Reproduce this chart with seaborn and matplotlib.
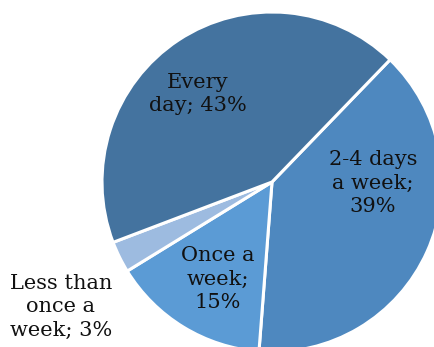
import matplotlib
matplotlib.use("Agg")
import matplotlib.pyplot as plt
import seaborn as sns

categories = ["2-4 days a week", "Once a week", "Less than once a week", "Every day"]
values = [39, 15, 3, 43]
label_texts = ["2-4 days\na week;\n39%", "Once a\nweek;\n15%", "Less than\nonce a\nweek; 3%", "Every\nday; 43%"]
colors = ["#4e88bf", "#5b9bd5", "#9dbbe0", "#44739f"]

sns.set_theme(style="white")
plt.rcParams["font.family"] = ["DejaVu Serif"]

W, H = 435, 347
fig = plt.figure(figsize=(W / 100, H / 100), dpi=100)
cx, cy, r = 272, 182, 170
ax = fig.add_axes([(cx - r) / W, (H - cy - r) / H, 2 * r / W, 2 * r / H])
wedges, _ = ax.pie(values, colors=colors, startangle=46, counterclock=False,
                   wedgeprops=dict(edgecolor="white", linewidth=2.2))
ax.set_xlim(-1, 1)
ax.set_ylim(-1, 1)
ax.axis("off")

label_px = [(373, 183), (218, 279), (61, 307), (198, 94)]
for txt, (px, py) in zip(label_texts, label_px):
    ax.text((px - cx) / r, (cy - py) / r, txt, ha="center", va="center",
            fontsize=15, linespacing=1.3, color="#111111", clip_on=False)

fig.savefig("out.png", dpi=100)
